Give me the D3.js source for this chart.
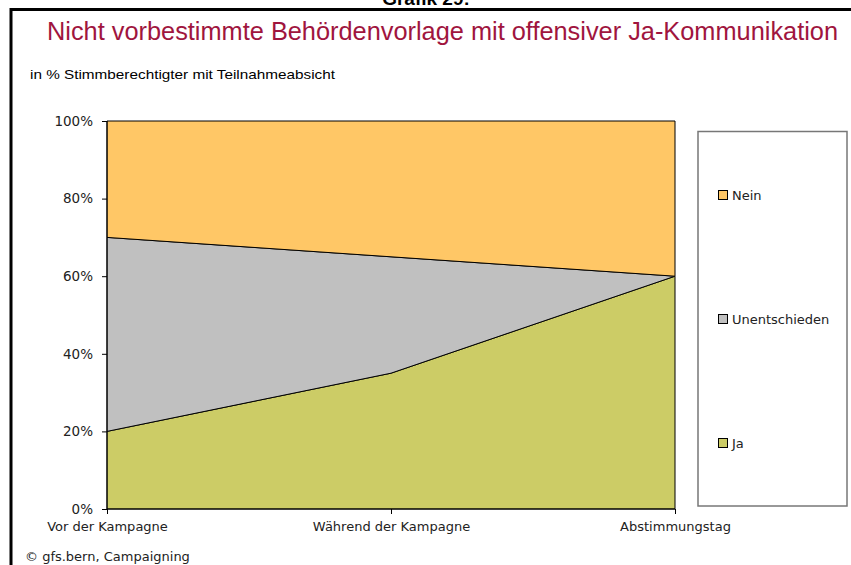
<!DOCTYPE html>
<html>
<head>
<meta charset="utf-8">
<script src="https://cdn.jsdelivr.net/npm/d3@7"></script>
<style>
  body { margin: 0; background: #fff; }
  svg { display: block; }
</style>
</head>
<body>
<svg id="chart" width="851" height="565"></svg>
<script>
  // data
  var categories = ["Vor der Kampagne", "Während der Kampagne", "Abstimmungstag"];
  var seriesNames = ["Ja", "Unentschieden", "Nein"];
  var ja = [20, 35, 60];
  var unentschieden = [50, 30, 0];
  var nein = [30, 35, 40];
  var yTicks = [0, 20, 40, 60, 80, 100];
  var colors = { "Ja": "#cccc66", "Unentschieden": "#c0c0c0", "Nein": "#ffc766" };

  var rows = categories.map(function(c, i) {
    return { cat: c, "Ja": ja[i], "Unentschieden": unentschieden[i], "Nein": nein[i] };
  });

  var svg = d3.select("#chart");
  var tickFont = "Tahoma, 'DejaVu Sans', sans-serif";

  // outer frame (runs off the right and bottom edge)
  svg.append("rect").attr("x", 11).attr("y", 9.5).attr("width", 900).attr("height", 600)
    .style("fill", "none").style("stroke", "#000").style("stroke-width", 3);

  svg.append("text").attr("x", 426).attr("y", 5).attr("text-anchor", "middle")
    .style("font-family", "'Liberation Sans', Arial, sans-serif").style("font-weight", "bold")
    .style("font-size", "19px").text("Grafik 29:");

  svg.append("text").attr("x", 47).attr("y", 40)
    .attr("textLength", 791).attr("lengthAdjust", "spacingAndGlyphs")
    .style("font-family", "'Liberation Sans Narrow', 'Liberation Sans', sans-serif")
    .style("font-size", "25px").style("fill", "#a0153e")
    .text("Nicht vorbestimmte Behördenvorlage mit offensiver Ja-Kommunikation");

  svg.append("text").attr("x", 30).attr("y", 79)
    .attr("textLength", 305).attr("lengthAdjust", "spacingAndGlyphs")
    .style("font-family", "'Liberation Sans Narrow', 'Liberation Sans', sans-serif")
    .style("font-size", "13.5px").style("fill", "#000")
    .text("in %  Stimmberechtigter mit Teilnahmeabsicht");

  var x = d3.scalePoint().domain(categories).range([107, 675]);
  var y = d3.scaleLinear().domain([0, 100]).range([509, 121]);

  var stack = d3.stack().keys(seriesNames);
  var layers = stack(rows);

  var area = d3.area()
    .x(function(d) { return x(d.data.cat); })
    .y0(function(d) { return y(d[0]); })
    .y1(function(d) { return y(d[1]); });

  svg.append("g").selectAll("path").data(layers).enter().append("path")
    .attr("d", area)
    .style("fill", function(d) { return colors[d.key]; })
    .style("stroke", "#000").style("stroke-width", 1)
    .style("stroke-linejoin", "miter");

  var yAxis = svg.append("g").attr("transform", "translate(107,0)")
    .call(d3.axisLeft(y).tickValues(yTicks).tickSize(5).tickPadding(9)
      .tickFormat(function(d) { return d + "%"; }));
  yAxis.select(".domain").attr("d", "M0," + y(0) + "V" + y(100));

  var xAxis = svg.append("g").attr("transform", "translate(0,509)")
    .call(d3.axisBottom(x).tickSize(5).tickPadding(8));
  xAxis.select(".domain").attr("d", "M107,0H675");

  svg.selectAll(".tick text").style("font-family", tickFont).style("font-size", "13.5px").style("fill", "#222");
  xAxis.selectAll(".tick text").style("font-size", "13px");
  svg.selectAll(".domain, .tick line").style("stroke", "#000");

  // legend
  var legend = svg.append("g");
  legend.append("rect").attr("x", 698).attr("y", 131.5).attr("width", 149).attr("height", 374.5)
    .style("fill", "#fff").style("stroke", "#777").style("stroke-width", 1.5);

  var legendY = d3.scalePoint().domain(seriesNames.slice().reverse()).range([195, 443]);
  var items = legend.selectAll("g.item").data(seriesNames.slice().reverse()).enter().append("g")
    .attr("transform", function(d) { return "translate(718," + legendY(d) + ")"; });
  items.append("rect").attr("x", 0.5).attr("y", -4.5).attr("width", 9).attr("height", 9)
    .style("fill", function(d) { return colors[d]; }).style("stroke", "#000");
  items.append("text").attr("x", 14).attr("y", 4.5)
    .style("font-family", tickFont).style("font-size", "13px").style("fill", "#222")
    .text(function(d) { return d; });

  svg.append("text").attr("x", 25).attr("y", 561)
    .style("font-family", tickFont).style("font-size", "13px").style("fill", "#222")
    .text("© gfs.bern, Campaigning");
</script>
</body>
</html>
